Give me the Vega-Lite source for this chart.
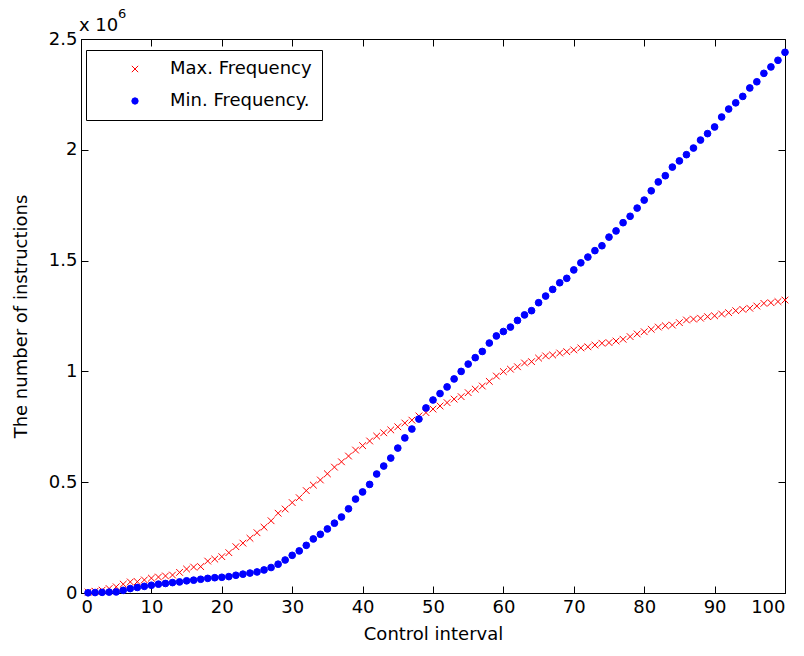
{
  "$schema": "https://vega.github.io/schema/vega-lite/v6.json",
  "autosize": {"type": "none"},
  "width": 704,
  "height": 554,
  "padding": {"left": 81, "top": 39, "right": 19, "bottom": 63},
  "background": "white",
  "config": {
    "font": "DejaVu Sans",
    "view": {"stroke": "black", "strokeWidth": 1},
    "axis": {
      "domainColor": "black", "tickColor": "black", "labelColor": "black", "titleColor": "black",
      "labelFont": "DejaVu Sans", "titleFont": "DejaVu Sans",
      "labelFontSize": 18, "titleFontSize": 18, "titleFontWeight": "normal",
      "grid": false, "tickSize": -7, "tickWidth": 1, "domainWidth": 1
    }
  },
  "data": {"values": [
    {"x":1,"max":4000,"min":1000},{"x":2,"max":8000,"min":2000},{"x":3,"max":13000,"min":3000},{"x":4,"max":20000,"min":4000},{"x":5,"max":28000,"min":5000},
    {"x":6,"max":40000,"min":12000},{"x":7,"max":50000,"min":20000},{"x":8,"max":51000,"min":25000},{"x":9,"max":59000,"min":30000},{"x":10,"max":67000,"min":35000},
    {"x":11,"max":72000,"min":40000},{"x":12,"max":77000,"min":43000},{"x":13,"max":81000,"min":47000},{"x":14,"max":93000,"min":50000},{"x":15,"max":108000,"min":55000},
    {"x":16,"max":117000,"min":58000},{"x":17,"max":119000,"min":62000},{"x":18,"max":144000,"min":66000},{"x":19,"max":153000,"min":69000},{"x":20,"max":164000,"min":71000},
    {"x":21,"max":182000,"min":74000},{"x":22,"max":209000,"min":80000},{"x":23,"max":225000,"min":85000},{"x":24,"max":247000,"min":90000},{"x":25,"max":272000,"min":95000},
    {"x":26,"max":297000,"min":104000},{"x":27,"max":326000,"min":115000},{"x":28,"max":360000,"min":130000},{"x":29,"max":379000,"min":149000},{"x":30,"max":408000,"min":170000},
    {"x":31,"max":430000,"min":190000},{"x":32,"max":462000,"min":215000},{"x":33,"max":487000,"min":244000},{"x":34,"max":510000,"min":265000},{"x":35,"max":538000,"min":289000},
    {"x":36,"max":568000,"min":315000},{"x":37,"max":592000,"min":343000},{"x":38,"max":618000,"min":380000},{"x":39,"max":645000,"min":424000},{"x":40,"max":665000,"min":456000},
    {"x":41,"max":686000,"min":490000},{"x":42,"max":708000,"min":537000},{"x":43,"max":723000,"min":573000},{"x":44,"max":736000,"min":609000},{"x":45,"max":750000,"min":654000},
    {"x":46,"max":767000,"min":700000},{"x":47,"max":780000,"min":740000},{"x":48,"max":799000,"min":785000},{"x":49,"max":814000,"min":835000},{"x":50,"max":830000,"min":871000},
    {"x":51,"max":844000,"min":900000},{"x":52,"max":859000,"min":930000},{"x":53,"max":875000,"min":966000},{"x":54,"max":886000,"min":1000000},{"x":55,"max":904000,"min":1033000},
    {"x":56,"max":920000,"min":1062000},{"x":57,"max":934000,"min":1090000},{"x":58,"max":955000,"min":1128000},{"x":59,"max":979000,"min":1160000},{"x":60,"max":999000,"min":1180000},
    {"x":61,"max":1010000,"min":1200000},{"x":62,"max":1021000,"min":1230000},{"x":63,"max":1038000,"min":1255000},{"x":64,"max":1044000,"min":1274000},{"x":65,"max":1060000,"min":1310000},
    {"x":66,"max":1070000,"min":1340000},{"x":67,"max":1074000,"min":1370000},{"x":68,"max":1083000,"min":1400000},{"x":69,"max":1089000,"min":1420000},{"x":70,"max":1097000,"min":1458000},
    {"x":71,"max":1106000,"min":1490000},{"x":72,"max":1111000,"min":1516000},{"x":73,"max":1119000,"min":1545000},{"x":74,"max":1127000,"min":1567000},{"x":75,"max":1130000,"min":1606000},
    {"x":76,"max":1137000,"min":1634000},{"x":77,"max":1145000,"min":1671000},{"x":78,"max":1157000,"min":1700000},{"x":79,"max":1169000,"min":1737000},{"x":80,"max":1179000,"min":1773000},
    {"x":81,"max":1190000,"min":1815000},{"x":82,"max":1200000,"min":1855000},{"x":83,"max":1206000,"min":1883000},{"x":84,"max":1209000,"min":1922000},{"x":85,"max":1220000,"min":1950000},
    {"x":86,"max":1232000,"min":1978000},{"x":87,"max":1236000,"min":2008000},{"x":88,"max":1240000,"min":2044000},{"x":89,"max":1247000,"min":2073000},{"x":90,"max":1251000,"min":2103000},
    {"x":91,"max":1259000,"min":2148000},{"x":92,"max":1265000,"min":2184000},{"x":93,"max":1274000,"min":2212000},{"x":94,"max":1280000,"min":2241000},{"x":95,"max":1285000,"min":2279000},
    {"x":96,"max":1295000,"min":2307000},{"x":97,"max":1307000,"min":2345000},{"x":98,"max":1310000,"min":2374000},{"x":99,"max":1315000,"min":2404000},{"x":100,"max":1322000,"min":2440000}
  ]},
  "layer": [
    {
      "transform": [{"fold": ["max", "min"], "as": ["series", "value"]}],
      "mark": {"type": "point", "filled": false, "strokeWidth": 1, "opacity": 1, "size": 45},
      "encoding": {
        "x": {"field": "x", "type": "quantitative", "scale": {"domain": [0, 100], "nice": false, "zero": false},
              "axis": {"title": "Control interval", "values": [0,10,20,30,40,50,60,70,80,90,100], "labelPadding": 12, "titlePadding": 9}},
        "y": {"field": "value", "type": "quantitative", "scale": {"domain": [0, 2500000], "nice": false},
              "axis": {"title": "The number of instructions", "values": [0,500000,1000000,1500000,2000000,2500000], "labelExpr": "datum.value / 1000000 + ''", "labelPadding": 11, "titlePadding": 18}},
        "stroke": {"field": "series", "type": "nominal", "scale": {"domain": ["max", "min"], "range": ["#ff0000", "#0000ff"]},
                   "legend": {"title": null, "orient": "none", "legendX": 5, "legendY": 11, "labelExpr": "datum.label == 'max' ? 'Max. Frequency' : 'Min. Frequency.'",
                              "strokeColor": "black", "fillColor": "white", "padding": 10, "rowPadding": 14, "symbolOffset": 30, "labelOffset": 26,
                              "labelFontSize": 18, "labelFont": "DejaVu Sans", "labelColor": "black", "symbolSize": 40, "symbolStrokeWidth": 1}},
        "fill": {"field": "series", "type": "nominal", "scale": {"domain": ["max", "min"], "range": ["transparent", "#0000ff"]}},
        "shape": {"field": "series", "type": "nominal", "scale": {"domain": ["max", "min"], "range": ["M-1,-1L1,1M1,-1L-1,1", "circle"]}}
      }
    },
    {
      "mark": {"type": "point", "opacity": 0},
      "encoding": {
        "x": {"field": "x", "type": "quantitative", "scale": {"domain": [0, 100], "nice": false, "zero": false},
              "axis": {"orient": "top", "title": null, "labels": false, "domain": false, "values": [0,10,20,30,40,50,60,70,80,90,100]}},
        "y": {"field": "max", "type": "quantitative", "scale": {"domain": [0, 2500000], "nice": false},
              "axis": {"orient": "right", "title": null, "labels": false, "domain": false, "values": [0,500000,1000000,1500000,2000000,2500000]}}
      }
    },
    {
      "data": {"values": [{"base": "x 10", "exp": "6"}]},
      "layer": [
        {
          "mark": {"type": "text", "align": "left", "baseline": "middle", "fontSize": 18, "font": "DejaVu Sans", "color": "black", "dx": -2, "dy": -13},
          "encoding": {
            "x": {"datum": 0, "type": "quantitative", "axis": null},
            "y": {"datum": 2500000, "type": "quantitative", "axis": null},
            "text": {"field": "base", "type": "nominal"}
          }
        },
        {
          "mark": {"type": "text", "align": "left", "baseline": "middle", "fontSize": 13, "font": "DejaVu Sans", "color": "black", "dx": 37, "dy": -25},
          "encoding": {
            "x": {"datum": 0, "type": "quantitative", "axis": null},
            "y": {"datum": 2500000, "type": "quantitative", "axis": null},
            "text": {"field": "exp", "type": "nominal"}
          }
        }
      ]
    }
  ],
  "resolve": {"axis": {"x": "independent", "y": "independent"}}
}
